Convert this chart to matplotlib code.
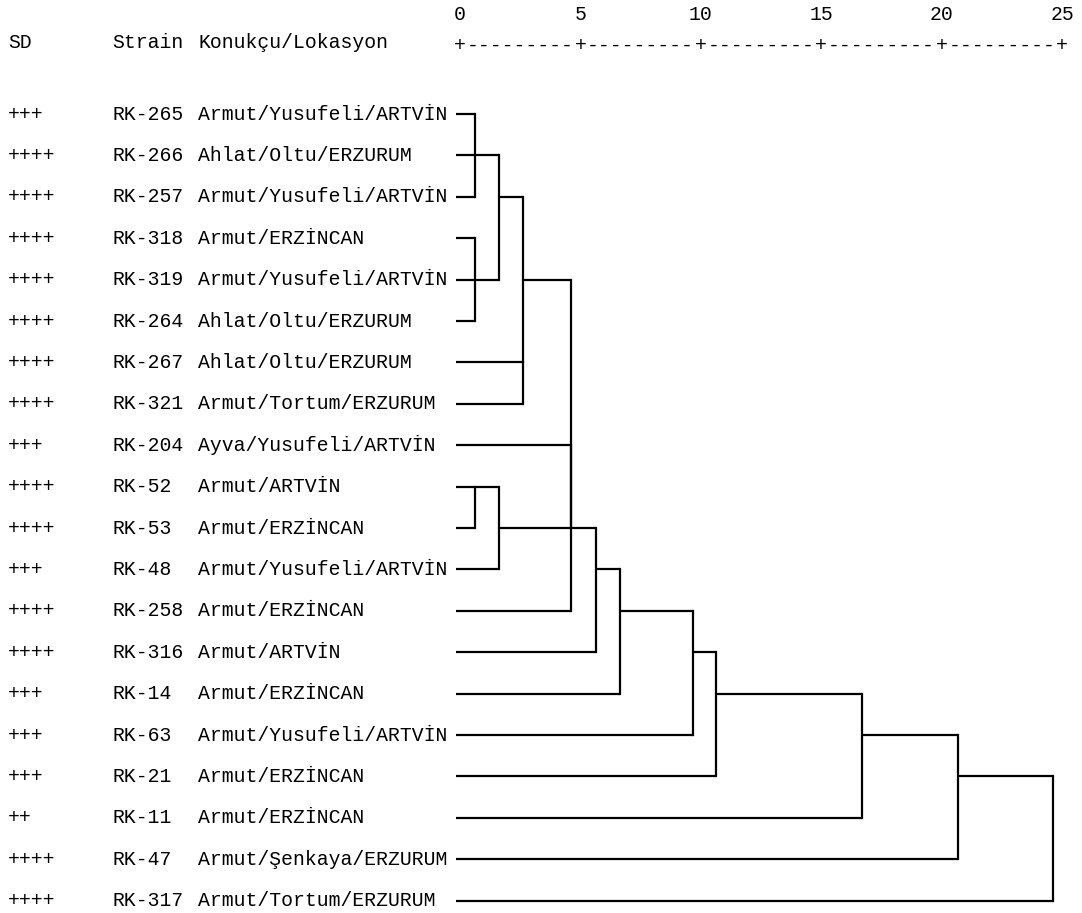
import matplotlib
matplotlib.use("Agg")
import matplotlib.pyplot as plt

# SD score, strain code and host/location for every leaf, top to bottom
sd = ["+++", "++++", "++++", "++++", "++++", "++++", "++++", "++++", "+++", "++++",
      "++++", "+++", "++++", "++++", "+++", "+++", "+++", "++", "++++", "++++"]
strains = ["RK-265", "RK-266", "RK-257", "RK-318", "RK-319", "RK-264", "RK-267", "RK-321",
           "RK-204", "RK-52", "RK-53", "RK-48", "RK-258", "RK-316", "RK-14", "RK-63",
           "RK-21", "RK-11", "RK-47", "RK-317"]
hosts = ["Armut/Yusufeli/ARTVİN", "Ahlat/Oltu/ERZURUM", "Armut/Yusufeli/ARTVİN",
         "Armut/ERZİNCAN", "Armut/Yusufeli/ARTVİN", "Ahlat/Oltu/ERZURUM",
         "Ahlat/Oltu/ERZURUM", "Armut/Tortum/ERZURUM", "Ayva/Yusufeli/ARTVİN",
         "Armut/ARTVİN", "Armut/ERZİNCAN", "Armut/Yusufeli/ARTVİN", "Armut/ERZİNCAN",
         "Armut/ARTVİN", "Armut/ERZİNCAN", "Armut/Yusufeli/ARTVİN", "Armut/ERZİNCAN",
         "Armut/ERZİNCAN", "Armut/Şenkaya/ERZURUM", "Armut/Tortum/ERZURUM"]

# merges: ids 0-19 are leaves, merge k creates cluster 20+k
merge_children = [[0, 2], [20, 1], [3, 5], [22, 4], [21, 23], [6, 7], [24, 25],
                  [9, 10], [27, 11], [8, 12], [29, 28], [26, 30], [31, 13],
                  [32, 14], [33, 15], [34, 16], [35, 17], [36, 18], [37, 19]]
merge_height = [0.62, 0.62, 0.62, 0.62, 1.62, 2.62, 2.62, 0.62, 1.62, 4.6, 4.6, 4.6,
                5.65, 6.64, 9.68, 10.63, 16.69, 20.68, 24.63]

scale_ticks = [0, 5, 10, 15, 20, 25]
header = ["SD", "Strain", "Konukçu/Lokasyon"]

W, H = 1082, 913
X0, XU = 460.0, 24.08      # pixel of distance 0, pixels per unit
Y0, YU = 114.0, 41.4       # pixel of first row, pixels per row


def px(x):
    return (x - X0) / XU


def py(y):
    return (y - Y0) / YU


fig = plt.figure(figsize=(W / 100, H / 100), dpi=100)
ax = fig.add_axes([0, 0, 1, 1])
ax.set_xlim(px(0), px(W))
ax.set_ylim(py(H), py(0))
ax.axis("off")

font = dict(family="Liberation Mono", fontsize=14.2, color="black", va="center")

# header and leaf labels
for txt, x in zip(header, [8, 112, 198]):
    ax.text(px(x), py(42), txt, ha="left", **font)
for i in range(len(strains)):
    ax.text(px(8), i, sd[i], ha="left", **font)
    ax.text(px(112), i, strains[i], ha="left", **font)
    ax.text(px(198), i, hosts[i], ha="left", **font)

# rescaled distance scale drawn as text like the SPSS output
for t in scale_ticks:
    ax.text(t, py(14), str(t), ha="center", **font)
    ax.text(t, py(45), "+", ha="center", **font)
for a, b in zip(scale_ticks[:-1], scale_ticks[1:]):
    ax.text((a + b) / 2, py(45), "-" * 9, ha="center", **font)

# dendrogram
row = {i: i for i in range(len(strains))}
start = {i: px(456) for i in range(len(strains))}
row_override = {11: 10}  # SPSS puts this junction on the RK-53 line
lw = 1.6
for k, (kids, h) in enumerate(zip(merge_children, merge_height)):
    rows = [row[c] for c in kids]
    for c in kids:
        ax.plot([start[c], h], [row[c], row[c]], color="black", lw=lw,
                solid_capstyle="butt")
    ax.plot([h, h], [min(rows), max(rows)], color="black", lw=lw,
            solid_capstyle="projecting")
    cid = len(strains) + k
    row[cid] = row_override.get(k, (min(rows) + max(rows)) // 2)
    start[cid] = h

fig.savefig("out.png", dpi=100, facecolor="white")
